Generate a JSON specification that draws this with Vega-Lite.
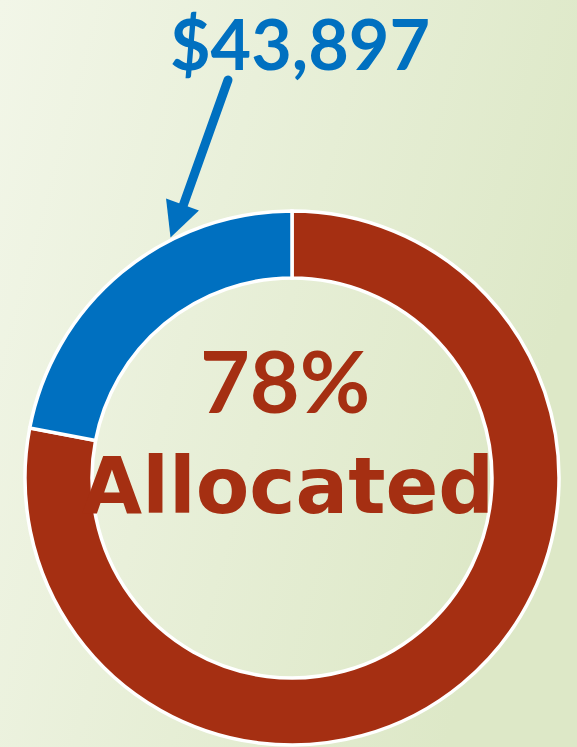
{
  "$schema": "https://vega.github.io/schema/vega-lite/v6.json",
  "width": 577,
  "height": 747,
  "padding": 0,
  "autosize": {"type": "none"},
  "config": {"view": {"stroke": null}, "axis": {"disable": true}},
  "layer": [
    {
      "data": {"values": [{"area": "background"}]},
      "mark": {
        "type": "rect",
        "fill": {
          "gradient": "linear",
          "x1": 0, "y1": 0, "x2": 1, "y2": 0.35,
          "stops": [
            {"offset": 0, "color": "#F2F6E8"},
            {"offset": 1, "color": "#DDE8C7"}
          ]
        }
      },
      "encoding": {
        "x": {"datum": 0, "type": "quantitative", "scale": {"domain": [0, 577], "nice": false, "zero": false}, "axis": null},
        "x2": {"datum": 577},
        "y": {"datum": 0, "type": "quantitative", "scale": {"domain": [0, 747], "nice": false, "zero": false, "reverse": true}, "axis": null},
        "y2": {"datum": 747}
      }
    },
    {
      "data": {"values": [
        {"status": "Allocated", "value": 78, "order": 1},
        {"status": "Unallocated", "value": 22, "order": 2}
      ]},
      "mark": {"type": "arc", "radius": 267, "radius2": 200, "stroke": "#FFFFFF", "strokeWidth": 3.5},
      "encoding": {
        "x": {"datum": 292, "type": "quantitative"},
        "y": {"datum": 478, "type": "quantitative"},
        "theta": {"field": "value", "type": "quantitative", "stack": true},
        "order": {"field": "order", "type": "quantitative"},
        "color": {"field": "status", "type": "nominal", "scale": {"domain": ["Allocated", "Unallocated"], "range": ["#A52F12", "#0070C0"]}, "legend": null}
      }
    },
    {
      "data": {"values": [{"part": "arrow shaft"}]},
      "mark": {"type": "rule", "color": "#0070C0", "strokeWidth": 9, "strokeCap": "round"},
      "encoding": {
        "x": {"datum": 228, "type": "quantitative"},
        "y": {"datum": 80, "type": "quantitative"},
        "x2": {"datum": 183},
        "y2": {"datum": 206}
      }
    },
    {
      "data": {"values": [{"part": "arrow head"}]},
      "mark": {"type": "point", "shape": "M0,1L-1,-1L1,-1Z", "filled": true, "color": "#0070C0", "opacity": 1, "size": 1225, "angle": 20, "strokeWidth": 0},
      "encoding": {
        "x": {"datum": 176.5, "type": "quantitative"},
        "y": {"datum": 221, "type": "quantitative"}
      }
    },
    {
      "data": {"values": [{"label": "$43,897"}]},
      "mark": {"type": "text", "font": "Lato", "fontWeight": "bold", "fontSize": 70, "color": "#0070C0", "align": "center", "baseline": "alphabetic"},
      "encoding": {
        "x": {"datum": 300, "type": "quantitative"},
        "y": {"datum": 70, "type": "quantitative"},
        "text": {"field": "label"}
      }
    },
    {
      "data": {"values": [{"label": "78%"}]},
      "mark": {"type": "text", "font": "Lato", "fontWeight": "bold", "fontSize": 86, "color": "#A52F12", "align": "center", "baseline": "alphabetic"},
      "encoding": {
        "x": {"datum": 285, "type": "quantitative"},
        "y": {"datum": 413, "type": "quantitative"},
        "text": {"field": "label"}
      }
    },
    {
      "data": {"values": [{"label": "Allocated"}]},
      "mark": {"type": "text", "font": "DejaVu Sans", "fontWeight": "bold", "fontSize": 78, "color": "#A52F12", "align": "center", "baseline": "alphabetic"},
      "encoding": {
        "x": {"datum": 288, "type": "quantitative"},
        "y": {"datum": 513, "type": "quantitative"},
        "text": {"field": "label"}
      }
    }
  ]
}
